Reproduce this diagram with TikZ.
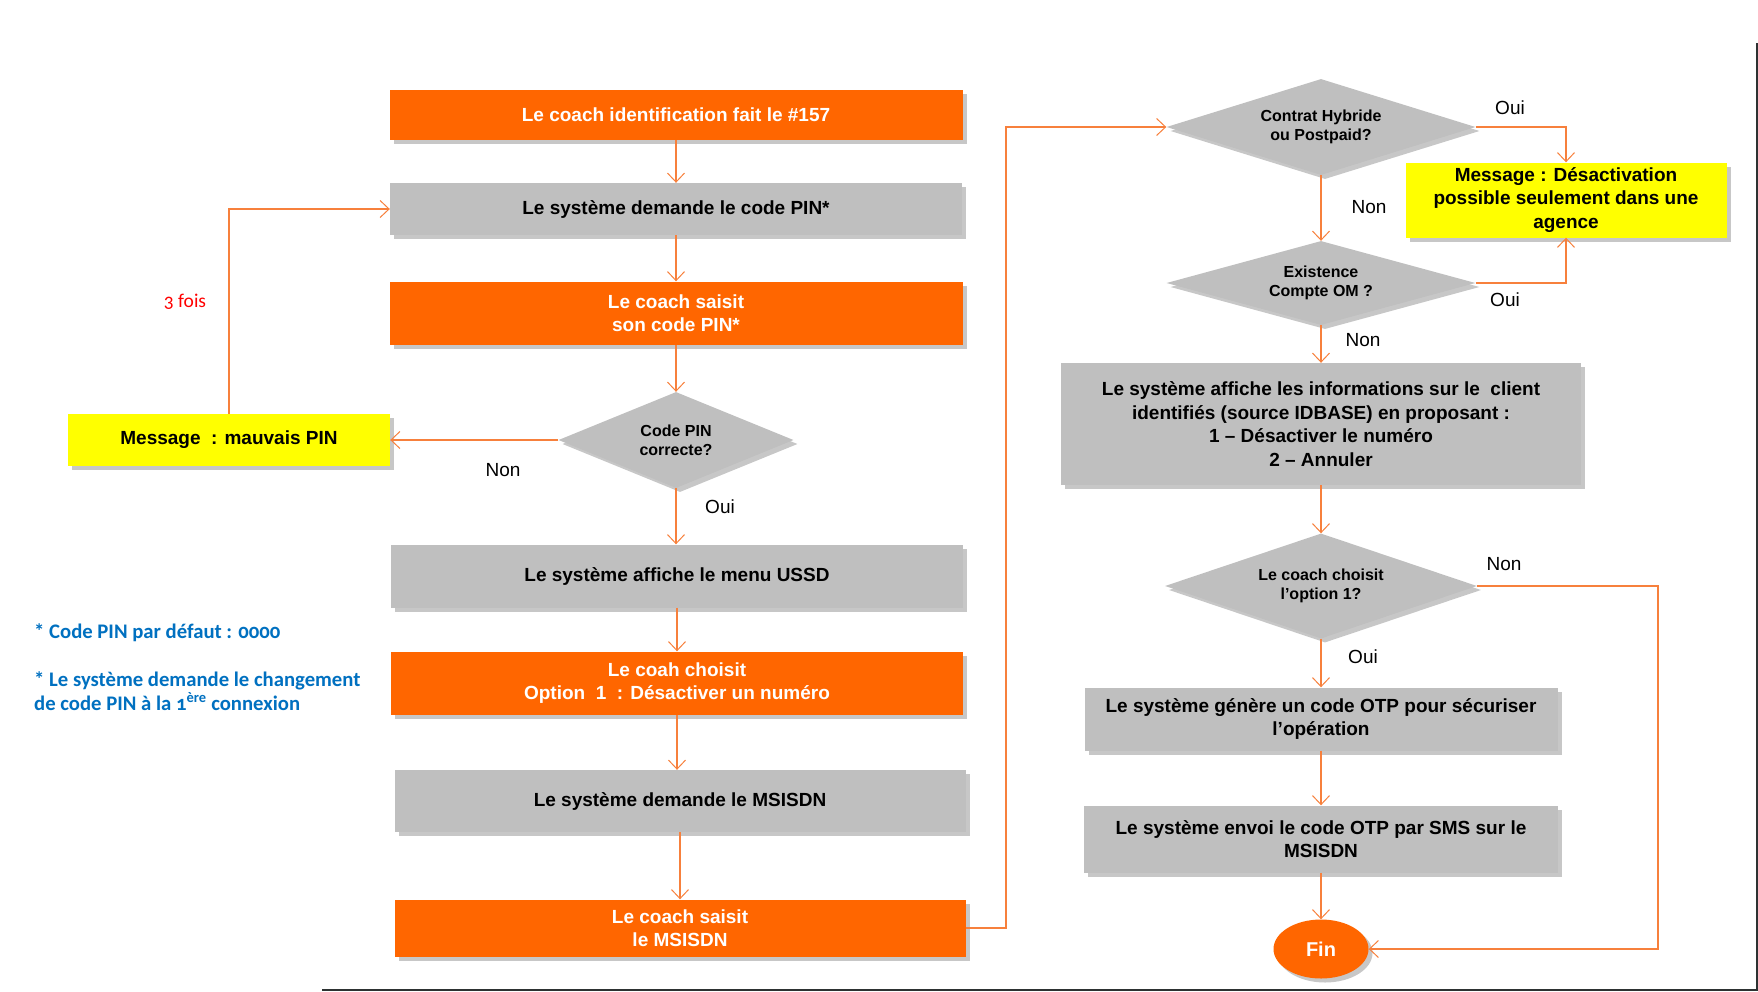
\documentclass[tikz,border=0pt]{standalone}
\usepackage{fontspec}
\setmainfont{Liberation Sans}
\newfontfamily\notefont[Numbers=OldStyle]{Carlito}
\usetikzlibrary{shapes.geometric,arrows.meta,shadows}
\definecolor{orng}{RGB}{255,102,0}
\definecolor{gry}{RGB}{191,191,191}
\definecolor{yel}{RGB}{255,255,0}
\definecolor{lnk}{RGB}{247,128,60}
\definecolor{notecol}{RGB}{0,112,192}
\definecolor{borderc}{RGB}{45,50,50}
\tikzset{
  shad/.style={drop shadow={shadow xshift=4pt,shadow yshift=-4pt,fill=black,opacity=0.22}},
  boxbase/.style={rectangle,inner sep=2pt,align=center,font=\fontsize{19}{23.5}\selectfont\bfseries,shad},
  orbox/.style={boxbase,fill=orng,text=white},
  grbox/.style={boxbase,fill=gry,text=black},
  ylbox/.style={boxbase,fill=yel,text=black},
  decis/.style={diamond,aspect=3,inner sep=0pt,fill=gry,align=center,font=\fontsize{16}{19}\selectfont\bfseries,shad},
  lbl/.style={font=\fontsize{19}{23}\selectfont,text=black},
  link/.style={draw=lnk,line width=1.1pt,-{Straight Barb[length=9pt,width=17pt,line width=1pt]}},
  notes/.style={inner sep=0pt,text=notecol,font=\notefont\bfseries\fontsize{20.7}{24}\selectfont},
}
\begin{document}
\begin{tikzpicture}[x=1pt,y=-1pt]
\useasboundingbox (0,0) rectangle (1758,991);
% frame lines
\coordinate (fr1) at (1756.5,43);
\coordinate (fr2) at (1756.5,991);
\coordinate (fr3) at (322,990);
\coordinate (fr4) at (1758,990);
\draw[borderc,line width=2pt] (fr1) -- (fr2);
\draw[borderc,line width=2pt] (fr3) -- (fr4);

% left column
\node[orbox,minimum width=573pt,minimum height=50pt] (b1) at (676,115) {Le coach identification fait le \#157};
\node[grbox,minimum width=572pt,minimum height=52pt] (b2) at (676,209) {Le système demande le code PIN*};
\node[orbox,minimum width=573pt,minimum height=63pt] (b3) at (676,313) {Le coach saisit\\son code PIN*};
\node[decis,minimum width=235pt,minimum height=96pt] (d1) at (676,440) {Code PIN\\correcte?};
\node[ylbox,minimum width=322pt,minimum height=52pt] (y1) at (229,440) {Message\ \ : mauvais PIN};
\node[grbox,minimum width=572pt,minimum height=63pt] (b4) at (677,576) {Le système affiche le menu USSD};
\node[orbox,minimum width=572pt,minimum height=63pt] (b5) at (677,683) {Le coah choisit\\Option\ \ 1\ \ : Désactiver un numéro};
\node[grbox,minimum width=571pt,minimum height=62pt] (b6) at (680,801) {Le système demande le MSISDN};
\node[orbox,minimum width=571pt,minimum height=57pt] (b7) at (680,928) {Le coach saisit\\le MSISDN};

% right column
\node[decis,minimum width=309pt,minimum height=96pt] (dA) at (1321,127) {Contrat Hybride\\ou Postpaid?};
\node[ylbox,minimum width=321pt,minimum height=75pt] (y2) at (1566,200) {Message : Désactivation\\possible seulement dans une\\agence};
\node[decis,minimum width=309pt,minimum height=84pt] (dB) at (1321,283) {Existence\\Compte OM ?};
\node[grbox,minimum width=520pt,minimum height=122pt] (info) at (1321,424) {Le système affiche les informations sur le\ \ client\\identifiés (source IDBASE) en proposant :\\1 – Désactiver le numéro\\2 – Annuler};
\node[decis,minimum width=312pt,minimum height=105pt] (dC) at (1321,586) {Le coach choisit\\l’option 1?};
\node[grbox,minimum width=473pt,minimum height=63pt] (otp1) at (1321,719) {Le système génère un code OTP pour sécuriser\\l’opération};
\node[grbox,minimum width=474pt,minimum height=67pt] (otp2) at (1321,839) {Le système envoi le code OTP par SMS sur le\\MSISDN};
\node[ellipse,fill=orng,text=white,inner sep=0pt,minimum width=95pt,minimum height=59pt,font=\fontsize{20}{24}\selectfont\bfseries,shad] (fin) at (1321,949) {Fin};

% helper coordinates
\coordinate (cx) at (1006,928);
\coordinate (cr) at (1658,586);

% connectors left
\draw[link] (b1.south) -- (b2.north);
\draw[link] (b2.south) -- (b3.north);
\draw[link] (b3.south) -- (d1.north);
\draw[link] (d1.south) -- (d1.south |- b4.north);
\draw[link] (d1.west) -- (y1.east);
\draw[link] (y1.north) |- (b2.west);
\draw[link] (b4.south) -- (b5.north);
\draw[link] (b5.south) -- (b5.south |- b6.north);
\draw[link] (b6.south) -- (b7.north);
\draw[link] (b7.east) -- (cx) |- (dA.west);

% connectors right
\draw[link] (dA.east) -| (y2.north);
\draw[link] (dA.south) -- (dB.north);
\draw[link] (dB.east) -| (y2.south);
\draw[link] (dB.south) -- (info.north);
\draw[link] (info.south) -- (dC.north);
\draw[link] (dC.south) -- (otp1.north);
\draw[link] (dC.east) -- (cr) |- (fin.east);
\draw[link] (otp1.south) -- (otp2.north);
\draw[link] (otp2.south) -- (fin.north);

% labels
\node[lbl] (l1) at (1510,108) {Oui};
\node[lbl] (l2) at (1369,207) {Non};
\node[lbl] (l3) at (1505,300) {Oui};
\node[lbl] (l4) at (1363,340) {Non};
\node[lbl] (l5) at (1504,564) {Non};
\node[lbl] (l6) at (1363,657) {Oui};
\node[lbl] (l7) at (503,470) {Non};
\node[lbl] (l8) at (720,507) {Oui};
\node[font=\notefont\fontsize{19.5}{23}\selectfont,text=red] (l9) at (185,302) {3 fois};

% notes
\node[notes,anchor=west] (n1) at (34,633) {* Code PIN par défaut : 0000};
\node[notes,anchor=north west,align=left] (n2) at (34,671) {* Le système demande le changement\\de code PIN à la 1\textsuperscript{ère} connexion};
\end{tikzpicture}
\end{document}
